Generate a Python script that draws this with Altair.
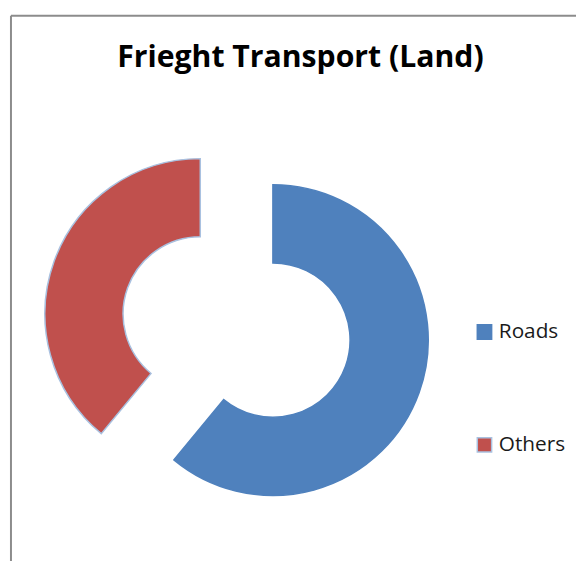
import altair as alt
import pandas as pd

categories = ["Roads", "Others"]
shares = [61, 39]
fill_colors = ["#4f81bd", "#c0504d"]
edge_colors = ["#4f81bd", "#a9c1e0"]
title_text = "Frieght Transport (Land)"

df = pd.DataFrame({"category": categories, "share": shares, "order": list(range(len(categories)))})

CX, CY, EXPLODE = 231, 319.5, 39

legend = alt.Legend(
    title=None, orient="none", legendX=471, legendY=314,
    symbolType="square", symbolSize=210, symbolStrokeWidth=1.5,
    labelFont="Open Sans", labelFontSize=21, labelColor="#1a1a1a",
    labelOffset=4, rowPadding=92, padding=0,
)

arcs = alt.Chart(df).transform_joinaggregate(
    total="sum(share)"
).transform_window(
    cum="sum(share)", sort=[alt.SortField("order")]
).transform_calculate(
    a0="(datum.cum - datum.share) / datum.total * 2 * PI",
    a1="datum.cum / datum.total * 2 * PI",
).transform_calculate(
    mid="(datum.a0 + datum.a1) / 2"
).transform_calculate(
    px=f"{CX} + {EXPLODE} * sin(datum.mid)",
    py=f"{CY} - {EXPLODE} * cos(datum.mid)",
).mark_arc(outerRadius=157, innerRadius=78, strokeWidth=1.5).encode(
    x=alt.X("px:Q", scale=None, axis=None),
    y=alt.Y("py:Q", scale=None, axis=None),
    theta=alt.Theta("a0:Q", scale=None),
    theta2=alt.Theta2("a1:Q"),
    color=alt.Color("category:N", scale=alt.Scale(domain=categories, range=fill_colors), legend=legend),
    stroke=alt.Stroke("category:N", scale=alt.Scale(domain=categories, range=edge_colors), legend=legend),
)

title = alt.Chart(pd.DataFrame({"t": [title_text]})).mark_text(
    font="Open Sans", fontSize=30.5, fontWeight="bold", color="#000000",
    align="center", baseline="alphabetic",
).encode(x=alt.value(295.5), y=alt.value(57), text="t:N")

frame_top = alt.Chart(pd.DataFrame({"a": [0]})).mark_rule(color="#8c8c8c", strokeWidth=2).encode(
    x=alt.value(3), x2=alt.value(576), y=alt.value(5)
)
frame_left = alt.Chart(pd.DataFrame({"a": [0]})).mark_rule(color="#8c8c8c", strokeWidth=2).encode(
    x=alt.value(3), y=alt.value(5), y2=alt.value(560)
)

chart = alt.layer(frame_top, frame_left, arcs, title).properties(
    width=574, height=553, autosize=alt.AutoSizeParams(type="none"), padding=0,
).configure_view(stroke=None)

chart.save("out.html", embed_options={"renderer": "svg", "actions": False})
